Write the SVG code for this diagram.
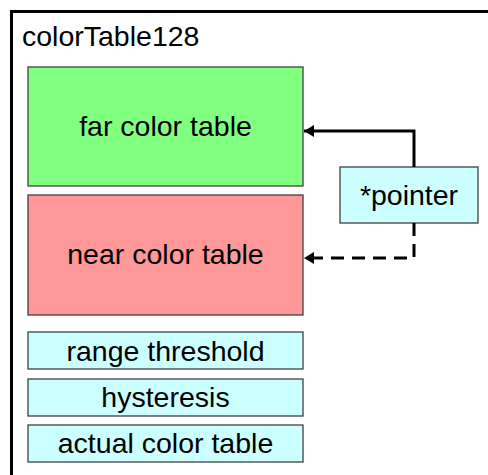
<svg xmlns="http://www.w3.org/2000/svg" width="488" height="475" viewBox="0 0 488 475">
<style>
.box{stroke:#404040;stroke-width:1.3}
.t{font-family:"Liberation Sans",Arial,sans-serif;font-size:28.5px;fill:#000;text-anchor:middle}
.c{fill:none;stroke:#000;stroke-width:3}
</style>
<defs>
<marker id="ah" markerWidth="11" markerHeight="12" refX="10" refY="6" orient="auto" markerUnits="userSpaceOnUse">
<path d="M0,0 L10,6 L0,12 Z" fill="#000"/>
</marker>
</defs>
<rect width="488" height="475" fill="#fff"/>
<g id="frame">
<path d="M11.5,475 V11.5 H488" fill="none" stroke="#000" stroke-width="3"/>
<text x="22" y="46" class="t" style="text-anchor:start">colorTable128</text>
</g>
<g id="far">
<rect class="box" x="28" y="67" width="275" height="119" fill="#80FF80"/>
<text class="t" x="165.5" y="136">far color table</text>
</g>
<g id="near">
<rect class="box" x="28" y="195" width="275" height="120" fill="#FF9999"/>
<text class="t" x="165.5" y="264">near color table</text>
</g>
<g id="range">
<rect class="box" x="28" y="332" width="275" height="37" fill="#CCFFFF"/>
<text class="t" x="165.5" y="361">range threshold</text>
</g>
<g id="hyst">
<rect class="box" x="28" y="379" width="275" height="37" fill="#CCFFFF"/>
<text class="t" x="165.5" y="407">hysteresis</text>
</g>
<g id="actual">
<rect class="box" x="28" y="425" width="275" height="37" fill="#CCFFFF"/>
<text class="t" x="165.5" y="453">actual color table</text>
</g>
<g id="pointer">
<rect class="box" x="340" y="167" width="138" height="56" fill="#CCFFFF"/>
<text class="t" x="409" y="205">*pointer</text>
</g>
<g id="connectors">
<path class="c" d="M414,167 V131 H304" marker-end="url(#ah)"/>
<path class="c" d="M414,223 V258 H304" stroke-dasharray="13,8" marker-end="url(#ah)"/>
</g>
</svg>
